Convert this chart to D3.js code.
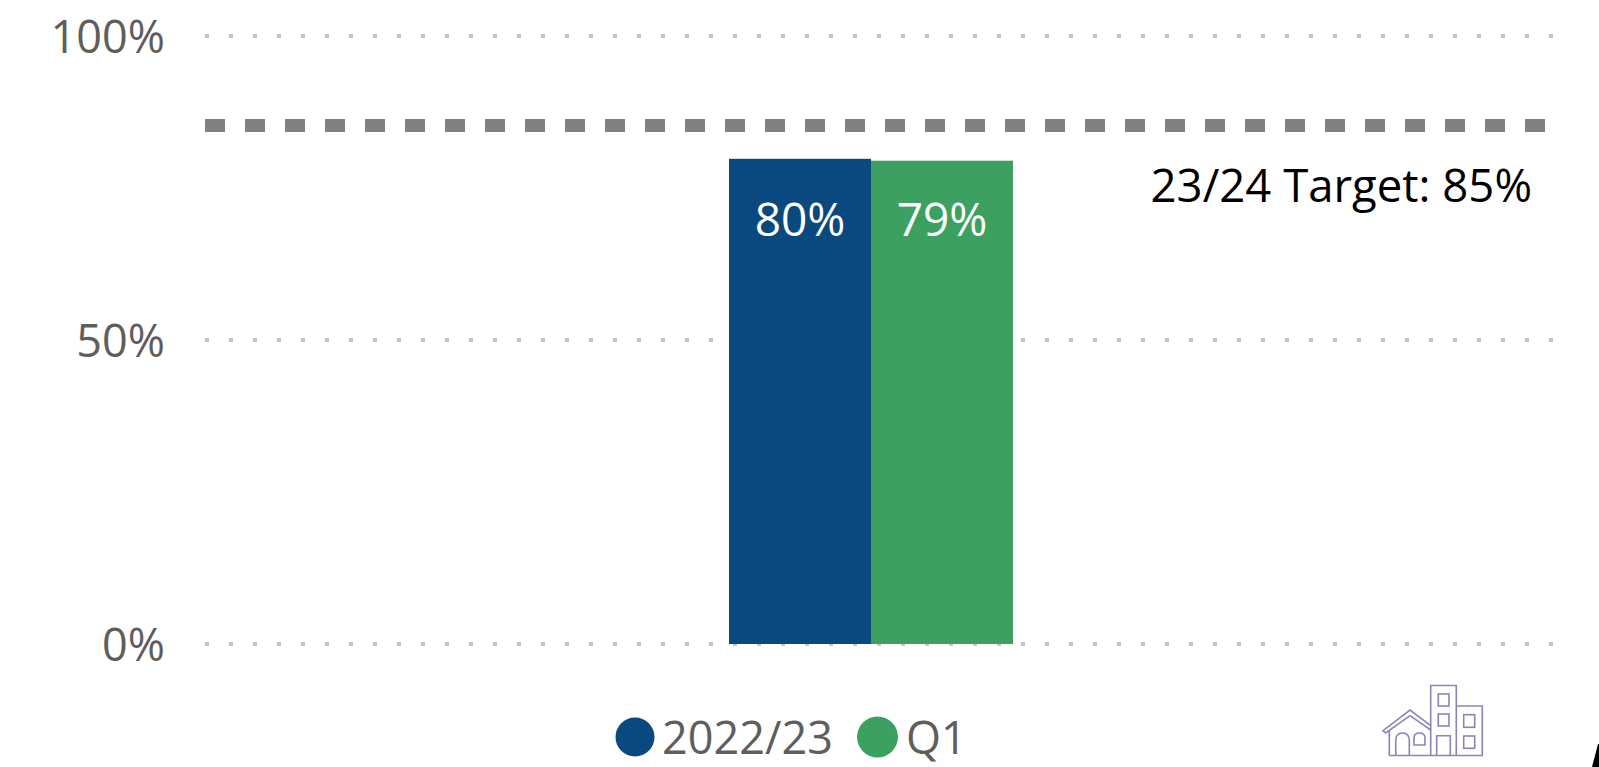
<!DOCTYPE html>
<html>
<head>
<meta charset="utf-8">
<script src="https://cdn.jsdelivr.net/npm/d3@7"></script>
<style>
html,body{margin:0;padding:0;background:#fff;overflow:hidden}
text{font-family:"Open Sans","Noto Sans",sans-serif}
</style>
</head>
<body>
<svg id="c" width="1599" height="767"></svg>
<script>
const categories = ["All"];
const seriesNames = ["2022/23", "Q1"];
const seriesValues = [79.8, 79.49];
const seriesColors = ["#0A4880", "#3CA160"];
const tickValues = [0, 50, 100];
const targetValue = 85.3;
const targetLabel = "23/24 Target: 85%";

const svg = d3.select("#c");
const y = d3.scaleLinear().domain([0, 100]).range([644, 36]);
const x0 = d3.scaleBand().domain(categories).range([205, 1537]).paddingInner(0.6485).paddingOuter(0.6485);
const x1 = d3.scaleBand().domain(seriesNames).range([x0(categories[0]), x0(categories[0]) + x0.bandwidth()]);
const axisColor = "#605E5C";

// gridlines
svg.append("g").selectAll("line").data(tickValues).join("line")
  .attr("x1", 205).attr("x2", 1555)
  .attr("y1", d => y(d)).attr("y2", d => y(d))
  .attr("stroke", "#C8C6C4").attr("stroke-width", 4).attr("stroke-dasharray", "4 20");

// y axis
const axis = d3.axisLeft(y).tickValues(tickValues).tickSize(0).tickPadding(0).tickFormat(d => d + "%");
const gA = svg.append("g").attr("transform", "translate(165,0)").call(axis);
gA.select(".domain").remove();
gA.selectAll("text")
  .attr("fill", axisColor).attr("font-size", 45).attr("font-weight", 400)
  .attr("dy", "0.36em").style("font-family", '"Open Sans","Noto Sans",sans-serif');

// bars
svg.append("g").selectAll("rect").data(seriesNames).join("rect")
  .attr("x", d => x1(d)).attr("width", x1.bandwidth())
  .attr("y", (d, i) => y(seriesValues[i]))
  .attr("height", (d, i) => y(0) - y(seriesValues[i]))
  .attr("fill", (d, i) => seriesColors[i]);

// bar labels
svg.append("g").selectAll("text").data(seriesNames).join("text")
  .attr("x", d => x1(d) + x1.bandwidth() / 2)
  .attr("y", 236).attr("text-anchor", "middle")
  .attr("fill", "#fff").attr("font-size", 46).attr("font-weight", 400)
  .text((d, i) => Math.round(seriesValues[i]) + "%");

// target line
svg.append("line")
  .attr("x1", 205).attr("x2", 1545)
  .attr("y1", y(targetValue)).attr("y2", y(targetValue))
  .attr("stroke", "#808080").attr("stroke-width", 13).attr("stroke-dasharray", "20 20");
svg.append("text").attr("x", 1532).attr("y", 202).attr("text-anchor", "end")
  .attr("fill", "#000").attr("font-size", 45.5).text(targetLabel);

// legend
const legendCircleX = [635, 877.5], legendTextX = [662, 906], legendRadius = [19.5, 20.5];
const lg = svg.append("g").selectAll("g").data(seriesNames).join("g");
lg.append("circle").attr("cx", (d, i) => legendCircleX[i]).attr("cy", 737).attr("r", (d, i) => legendRadius[i])
  .attr("fill", (d, i) => seriesColors[i]);
lg.append("text").attr("x", (d, i) => legendTextX[i]).attr("y", 754)
  .attr("fill", axisColor).attr("font-size", 45).text(d => d);

// city icon
const ic = svg.append("g").attr("fill", "none").attr("stroke", "#8F82B8").attr("stroke-width", 1.6);
ic.append("path").attr("d", "M1389.3 755.5H1482.3V706H1456.3M1430.7 755.5V685.5H1456.3V755.5");
ic.append("rect").attr("x", 1438.3).attr("y", 694).attr("width", 10.7).attr("height", 12);
ic.append("rect").attr("x", 1438.3).attr("y", 714).attr("width", 10.7).attr("height", 12);
ic.append("path").attr("d", "M1436.7 755.5V735.7H1450.3V755.5");
ic.append("rect").attr("x", 1463.7).attr("y", 714.7).attr("width", 11).attr("height", 12.6);
ic.append("rect").attr("x", 1463.7).attr("y", 736).attr("width", 11).attr("height", 12.3);
ic.append("path").attr("d", "M1430.7 725.7L1410 710L1383 730.7L1385.7 733L1410 715.7L1430.7 730");
ic.append("path").attr("d", "M1389.3 730V755.5");
ic.append("path").attr("d", "M1395.7 755.5V741Q1395.7 733 1402.5 733Q1409.3 733 1409.3 741V755.5");
ic.append("path").attr("d", "M1414 745V738Q1414 733 1419.5 733Q1425 733 1425 738V745Z");

// clipped corner shape
svg.append("path").attr("d", "M1598 744H1599V767H1592Z").attr("fill", "#000");
</script>
</body>
</html>
